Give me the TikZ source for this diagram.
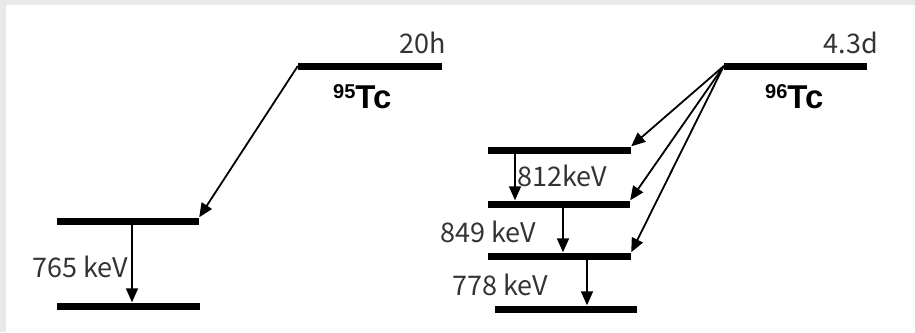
\documentclass[tikz,border=0pt]{standalone}
\usepackage{fontspec}
\setmainfont{Noto Sans CJK JP}
\newfontfamily\tcfont{Liberation Sans}
\usetikzlibrary{arrows.meta}
\definecolor{bgray}{HTML}{E8E9EB}
\definecolor{txt}{HTML}{333333}
\begin{document}
\begin{tikzpicture}[x=1pt,y=-1pt,
  level/.style={fill=black, inner sep=0pt, minimum height=7pt, draw=none},
  arr/.style={line width=1.8pt, -{Triangle[length=14pt,width=12pt]}},
  lbl/.style={inner sep=0pt, text=txt, font=\fontsize{27}{27}\selectfont},
  iso/.style={inner sep=0pt, anchor=base west}]
\useasboundingbox (0,0) rectangle (915,332);
\fill[bgray] (0,0) rectangle (915,332);
\fill[white] (6,5) rectangle (915,332);
% levels 95Tc
\node[level, minimum width=144pt] (t95) at (370,66) {};
\node[level, minimum width=142pt] (m95) at (128,221) {};
\node[level, minimum width=143pt] (b95) at (128.5,306) {};
% levels 96Tc
\node[level, minimum width=143pt] (t96) at (795.5,66) {};
\node[level, minimum width=143pt] (lA) at (559.5,150) {};
\node[level, minimum width=142pt] (lB) at (559,204) {};
\node[level, minimum width=143pt] (lC) at (559.5,256) {};
\node[level, minimum width=142pt] (lD) at (566,309) {};
% x positions of gamma lines
\coordinate (g765) at (132,0);
\coordinate (g812) at (515,0);
\coordinate (g849) at (563,0);
\coordinate (g778) at (587,0);
% decay arrows
\draw[arr] (t95.west) -- (m95.north east);
\draw[arr] (t96.west) -- (lA.north east);
\draw[arr] (t96.west) -- (lB.north east);
\draw[arr] (t96.west) -- (lC.north east);
% gamma arrows
\draw[arr] (g765 |- m95.south) -- (g765 |- b95.north);
\draw[arr] (g812 |- lA.south) -- (g812 |- lB.north);
\draw[arr] (g849 |- lB.south) -- (g849 |- lC.north);
\draw[arr] (g778 |- lC.south) -- (g778 |- lD.north);
% labels
\node[lbl, anchor=base east] (h95) at (446,53) {20h};
\node[lbl, anchor=base east] (h96) at (878,53) {4.3d};
\node[lbl, anchor=base east] (e765) at (128,277) {765 keV};
\node[lbl, anchor=base west] (e812) at (517,186) {812keV};
\node[lbl, anchor=base west] (e849) at (440,242) {849 keV};
\node[lbl, anchor=base west] (e778) at (452,295) {778 keV};
\node[iso] (n95) at (333,108) {\tcfont\bfseries\raisebox{10pt}{\fontsize{20}{20}\selectfont 95}\fontsize{33}{33}\selectfont Tc};
\node[iso] (n96) at (765,108) {\tcfont\bfseries\raisebox{10pt}{\fontsize{20}{20}\selectfont 96}\fontsize{33}{33}\selectfont Tc};
\end{tikzpicture}
\end{document}
